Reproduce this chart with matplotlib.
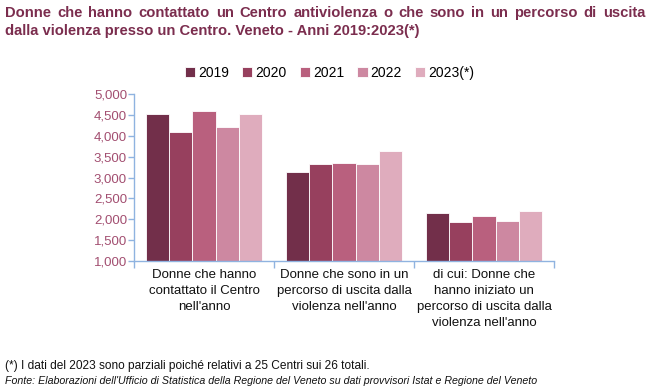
import matplotlib
matplotlib.use("Agg")
import matplotlib.pyplot as plt
import numpy as np

plt.rcParams['font.family'] = ['Liberation Sans', 'DejaVu Sans']

CATEGORIES = [
    "Donne che hanno\ncontattato il Centro\nnell'anno",
    "Donne che sono in un\npercorso di uscita dalla\nviolenza nell'anno",
    "di cui: Donne che\nhanno iniziato un\npercorso di uscita dalla\nviolenza nell'anno",
]
YEARS = ["2019", "2020", "2021", "2022", "2023(*)"]
VALUES = {
    "2019": [4530, 3140, 2150],
    "2020": [4100, 3320, 1940],
    "2021": [4590, 3350, 2080],
    "2022": [4220, 3330, 1970],
    "2023(*)": [4530, 3630, 2200],
}
COLORS = ["#722F4A", "#97405E", "#B9607E", "#CD88A1", "#DFACBD"]

TITLE_LINE1 = "Donne che hanno contattato un Centro antiviolenza o che sono in un percorso di uscita"
TITLE_LINE2 = "dalla violenza presso un Centro. Veneto - Anni 2019:2023(*)"
NOTE = "(*) I dati del 2023 sono parziali poiché relativi a 25 Centri sui 26 totali."
SOURCE = ("Fonte: Elaborazioni dell'Ufficio di Statistica della Regione del Veneto "
          "su dati provvisori Istat e Regione del Veneto")

AXIS_COLOR = "#8FB3E0"
TICK_COLOR = "#A24E70"
TITLE_COLOR = "#7B2D4E"
W, H = 651, 388


def justified_line(fig, text, y, x0, x1, **kw):
    # place the words one by one so the line fills x0..x1 (pixels)
    words = text.split()
    renderer = fig.canvas.get_renderer()
    items = [fig.text(0, y, w, ha="left", va="baseline", **kw) for w in words]
    widths = [t.get_window_extent(renderer).width for t in items]
    gap = (x1 - x0 - sum(widths)) / (len(words) - 1)
    pos = x0
    for t, wd in zip(items, widths):
        t.set_x(pos / W)
        pos += wd + gap


fig = plt.figure(figsize=(W / 100, H / 100), dpi=100)
ax = fig.add_axes([134 / W, 1 - 261 / H, 420 / W, 167 / H])

x = np.arange(len(CATEGORIES))
width = 0.1667
for i, (year, color) in enumerate(zip(YEARS, COLORS)):
    offs = (i - 2) * width
    ax.bar(x + offs, VALUES[year], width, bottom=0, color=color,
           edgecolor="white", linewidth=0.6, label=year, zorder=2)

ax.set_ylim(1000, 5000)
ax.set_xlim(-0.5, len(CATEGORIES) - 0.5)
ax.set_yticks(np.arange(1000, 5001, 500))
ax.set_yticklabels([f"{v:,}" for v in range(1000, 5001, 500)])

ax.set_xticks(np.arange(-0.5, len(CATEGORIES), 1))
ax.set_xticklabels([])
ax.set_xticks(x, minor=True)
ax.set_xticklabels(CATEGORIES, minor=True, linespacing=1.42)
ax.tick_params(axis="x", which="minor", length=0, pad=6, labelsize=9.5, labelcolor="#111111")
ax.tick_params(axis="x", which="major", length=5, color=AXIS_COLOR, width=1)
ax.tick_params(axis="y", length=4, color=AXIS_COLOR, width=1, labelsize=9.5,
               labelcolor=TICK_COLOR, pad=1)

for s in ["top", "right"]:
    ax.spines[s].set_visible(False)
for s in ["left", "bottom"]:
    ax.spines[s].set_color(AXIS_COLOR)
    ax.spines[s].set_linewidth(1)

fig.legend(loc="center", bbox_to_anchor=(0.506, 1 - 73 / H), ncol=5, frameon=False,
           fontsize=10, handlelength=0.75, handleheight=0.75, handletextpad=0.2,
           columnspacing=0.95)

title_kw = dict(fontsize=10.6, fontweight="bold", color=TITLE_COLOR)
justified_line(fig, TITLE_LINE1, 1 - 17 / H, 5, 645, **title_kw)
fig.text(5 / W, 1 - 35 / H, TITLE_LINE2, ha="left", va="baseline", **title_kw)

fig.text(5 / W, 1 - 366 / H, NOTE, ha="left", va="center", fontsize=8.6, color="#111111")
fig.text(5 / W, 1 - 381 / H, SOURCE, ha="left", va="center", fontsize=7.7, style="italic",
         color="#111111")

fig.savefig("out.png", dpi=100)
